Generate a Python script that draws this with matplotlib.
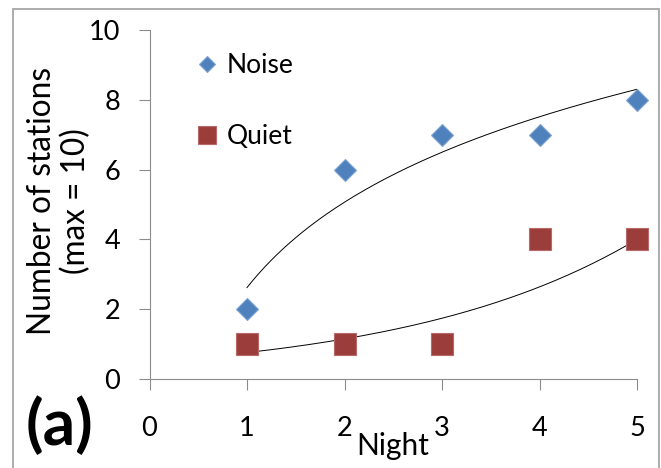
import numpy as np
import matplotlib
matplotlib.use("Agg")
import matplotlib.pyplot as plt
from matplotlib.patches import Rectangle

# Data
nights = [1, 2, 3, 4, 5]
noise = [2, 6, 7, 7, 8]
quiet = [1, 1, 1, 4, 4]
x_ticks = [0, 1, 2, 3, 4, 5]
y_ticks = [0, 2, 4, 6, 8, 10]

BLUE = "#4F81BD"
RED = "#9B3D3B"
AXIS_GREY = "#8C8C8C"

plt.rcParams["font.family"] = ["Lato", "DejaVu Sans"]

fig = plt.figure(figsize=(6.61, 4.68), dpi=100)
ax = fig.add_axes([149.5 / 661, 1 - 379 / 468, (637 - 149.5) / 661, (379 - 30) / 468])

# Trendlines: logarithmic for noise, exponential for quiet (Excel style)
xs = np.linspace(1, 5, 200)
a, b = np.polyfit(np.log(nights), noise, 1)
ax.plot(xs, a * np.log(xs) + b, color="black", lw=0.7, zorder=2)
k, lnc = np.polyfit(nights, np.log(quiet), 1)
ax.plot(xs, np.exp(lnc) * np.exp(k * xs), color="black", lw=0.7, zorder=2)

ax.plot(nights, noise, "D", ms=10.7, color=BLUE, mec="#7FA3D1", mew=0.8,
        label="Noise", zorder=3, clip_on=False)
ax.plot(nights, quiet, "s", ms=15.3, color=RED, mec="#B76A68", mew=0.8,
        label="Quiet", zorder=3, clip_on=False)

ax.set_xlim(0, 5)
ax.set_ylim(0, 10)
ax.set_xticks(x_ticks)
ax.set_yticks(y_ticks)
ax.tick_params(axis="x", length=8, width=0.8, color=AXIS_GREY, pad=19, labelsize=19.5)
ax.tick_params(axis="y", length=8, width=0.8, color=AXIS_GREY, pad=13, labelsize=19.5)
for side in ["top", "right"]:
    ax.spines[side].set_visible(False)
for side in ["left", "bottom"]:
    ax.spines[side].set_color(AXIS_GREY)
    ax.spines[side].set_linewidth(0.8)

leg = ax.legend(loc="upper left", bbox_to_anchor=(196 / 661, 1 - 53 / 468),
                bbox_transform=fig.transFigure, frameon=False, fontsize=19,
                markerscale=0.8, handlelength=0.8, handletextpad=0.35,
                labelspacing=1.75, borderpad=0, borderaxespad=0)

fig.text(59 / 661, 1 - 201 / 468, "Number of stations\n(max = 10)", rotation=90,
         ha="center", va="center", multialignment="center", fontsize=22.8,
         linespacing=1.15)
fig.text(393 / 661, 1 - 446 / 468, "Night", ha="center", va="center", fontsize=21.5)
fig.text(60 / 661, 1 - 425 / 468, "(a)", ha="center", va="center", fontsize=46,
         fontweight="bold")

fig.patches.append(Rectangle((13 / 661, -0.1), (659 - 13) / 661, 1.1 - 9 / 468,
                             transform=fig.transFigure, fill=False,
                             edgecolor="#A6A6A6", lw=1.3))

fig.savefig("out.png", dpi=100)
